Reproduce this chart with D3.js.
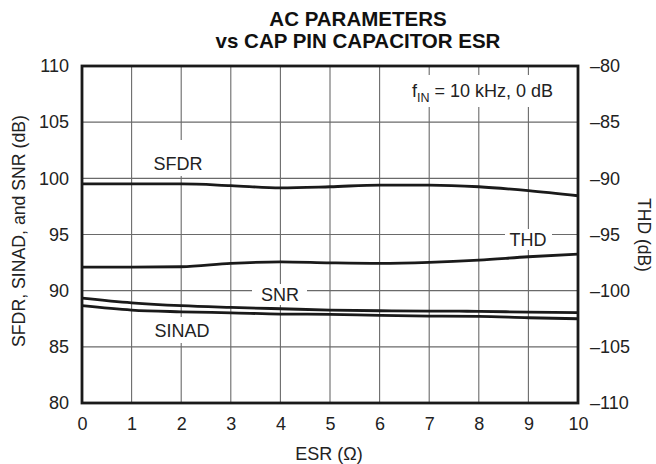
<!DOCTYPE html>
<html><head><meta charset="utf-8">
<script src="https://cdn.jsdelivr.net/npm/d3@7"></script>
<style>
html,body{margin:0;padding:0;background:#fff;}
svg{display:block;font-family:"Liberation Sans",Arial,Helvetica,sans-serif;}
</style></head>
<body><svg id="chart" width="656" height="464"></svg>
<script>
const esr = [0,1,2,3,4,5,6,7,8,9,10];
const sfdr = [99.5,99.5,99.5,99.35,99.15,99.25,99.4,99.4,99.25,98.9,98.45];
const snr = [89.34,88.92,88.66,88.51,88.39,88.27,88.21,88.18,88.16,88.09,88.05];
const sinad = [88.66,88.27,88.12,88.03,87.92,87.89,87.80,87.74,87.71,87.59,87.5];
const thd = [-97.9,-97.9,-97.87,-97.57,-97.43,-97.52,-97.57,-97.48,-97.28,-96.98,-96.74];
const xTicks = [0,1,2,3,4,5,6,7,8,9,10];
const yLeftTicks = [80,85,90,95,100,105,110];
const yRightTicks = [-110,-105,-100,-95,-90,-85,-80];

const L=82,R=578,T=66,B=403;
const FS=18;
const INK="#222";
const svg = d3.select("#chart");
const x = d3.scaleLinear().domain([0,10]).range([L,R]);
const yL = d3.scaleLinear().domain([80,110]).range([B,T]);
const yR = d3.scaleLinear().domain([-110,-80]).range([B,T]);
const dash = s => String(s).replace("-", "\u2013");

// grid
const grid = svg.append("g");
grid.selectAll("line.v").data(xTicks.slice(1,-1)).join("line")
  .attr("x1",d=>x(d)).attr("x2",d=>x(d)).attr("y1",T).attr("y2",B)
  .attr("stroke","#6a6a6a").attr("stroke-width",1.1);
grid.selectAll("line.h").data(yLeftTicks.slice(1,-1)).join("line")
  .attr("x1",L).attr("x2",R).attr("y1",d=>yL(d)).attr("y2",d=>yL(d))
  .attr("stroke","#6a6a6a").attr("stroke-width",1.1);

// axes (labels only)
const gx = svg.append("g").attr("transform",`translate(0,${B})`)
  .call(d3.axisBottom(x).tickValues(xTicks).tickSize(0).tickPadding(14).tickFormat(d3.format("d")));
const gl = svg.append("g").attr("transform",`translate(${L},0)`)
  .call(d3.axisLeft(yL).tickValues(yLeftTicks).tickSize(0).tickPadding(13));
const gr = svg.append("g").attr("transform",`translate(${R},0)`)
  .call(d3.axisRight(yR).tickValues(yRightTicks).tickSize(0).tickPadding(12).tickFormat(dash));
[gx,gl,gr].forEach(g=>{
  g.select(".domain").remove();
  g.selectAll("text").attr("font-size",FS).attr("fill",INK)
   .attr("font-family","'Liberation Sans',Arial,sans-serif");
});

// series lines
const lineL = d3.line().x((d,i)=>x(esr[i])).y(d=>yL(d)).curve(d3.curveMonotoneX);
const lineR = d3.line().x((d,i)=>x(esr[i])).y(d=>yR(d)).curve(d3.curveMonotoneX);
const lines = svg.append("g").attr("fill","none").attr("stroke","#1a1a1a").attr("stroke-width",2.8);
lines.append("path").attr("d",lineL(sfdr));
lines.append("path").attr("d",lineL(snr));
lines.append("path").attr("d",lineL(sinad));
lines.append("path").attr("d",lineR(thd));

// labels with white backgrounds (baseline positions)
function label(txt, cx, base, rx0, ry0, rx1, ry1){
  svg.append("rect").attr("x",rx0).attr("y",ry0).attr("width",rx1-rx0).attr("height",ry1-ry0).attr("fill","#fff");
  return svg.append("text").attr("x",cx).attr("y",base)
    .attr("text-anchor","middle").attr("font-size",FS).attr("fill",INK).text(txt);
}
label("SFDR",178,170,148,140,208,176);
label("THD",528,246,505,229,552,250);
label("SNR",280,300.5,252,284,307,305);
label("SINAD",182,337,150,317,214,343);
// fIN annotation
svg.append("rect").attr("x",406).attr("y",75).attr("width",157).attr("height",32).attr("fill","#fff");
const ft = svg.append("text").attr("x",412).attr("y",96.5).attr("text-anchor","start")
  .attr("font-size",FS).attr("fill",INK);
ft.append("tspan").text("f");
ft.append("tspan").attr("font-size",12.5).attr("dy",5).text("IN");
ft.append("tspan").attr("dy",-5).text(" = 10 kHz, 0 dB");

// frame
svg.append("rect").attr("x",L).attr("y",T).attr("width",R-L).attr("height",B-T)
  .attr("fill","none").attr("stroke","#1a1a1a").attr("stroke-width",2.8);

// titles
svg.append("text").attr("x",358).attr("y",26).attr("text-anchor","middle").attr("font-size",20.5)
  .attr("font-weight","bold").attr("fill","#111").text("AC PARAMETERS");
svg.append("text").attr("x",358).attr("y",48).attr("text-anchor","middle").attr("font-size",20.5)
  .attr("font-weight","bold").attr("fill","#111").text("vs CAP PIN CAPACITOR ESR");
svg.append("text").attr("x",329).attr("y",460).attr("text-anchor","middle").attr("font-size",FS)
  .attr("fill",INK).text("ESR (\u03A9)");
svg.append("text").attr("transform","translate(25,231) rotate(-90)").attr("text-anchor","middle")
  .attr("font-size",17.7).attr("fill",INK).text("SFDR, SINAD, and SNR (dB)");
svg.append("text").attr("transform","translate(638,235) rotate(90)").attr("text-anchor","middle")
  .attr("font-size",17.5).attr("fill",INK).text("THD (dB)");
</script></body></html>
